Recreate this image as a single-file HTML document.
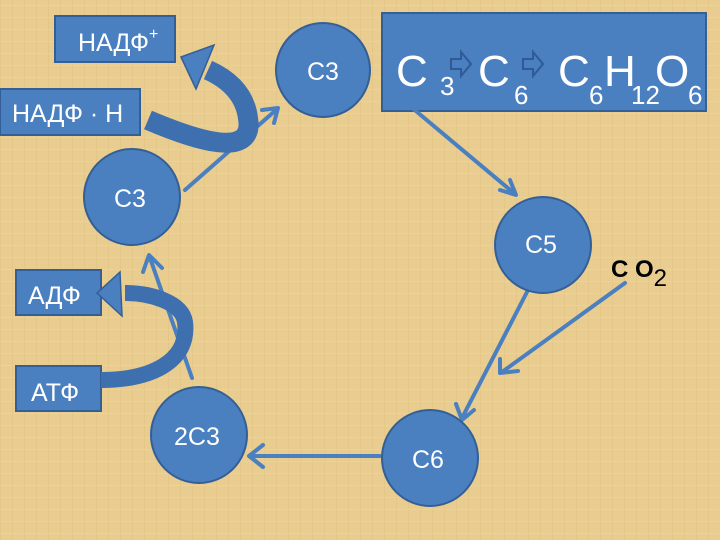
<!DOCTYPE html>
<html><head><meta charset="utf-8"><style>
body{margin:0;width:720px;height:540px;overflow:hidden;background:#e9cc8f;}
svg{display:block}
text{font-family:"Liberation Sans","DejaVu Sans",sans-serif;}
</style></head><body>
<svg width="720" height="540" viewBox="0 0 720 540">
<defs>
<pattern id="p" width="12" height="12" patternUnits="userSpaceOnUse">
<rect width="12" height="12" fill="#e9cc8f"/>
<rect x="0" y="0" width="1" height="12" fill="#e0bf7e" opacity=".5"/>
<rect x="0" y="5" width="12" height="1" fill="#f0d8a4" opacity=".5"/>
</pattern>
</defs>
<rect width="720" height="540" fill="url(#p)"/>
<g fill="#4a7fc0" stroke="#345f96" stroke-width="2">
<rect x="55" y="16" width="120" height="46"/>
<rect x="0" y="89" width="140" height="46"/>
<rect x="382" y="13" width="324" height="98"/>
<rect x="16" y="270" width="85" height="45"/>
<rect x="16" y="366" width="85" height="45"/>
</g>
<g stroke="#4a7fc0" stroke-width="4" fill="none" stroke-linecap="round">
<line x1="185" y1="190" x2="276" y2="110"/>
<line x1="398" y1="96" x2="515" y2="194"/>
<line x1="527" y1="292" x2="462" y2="418"/>
<line x1="625" y1="283" x2="502" y2="372"/>
<line x1="380" y1="456" x2="250" y2="456"/>
<line x1="192" y1="378" x2="150" y2="258"/>
</g>
<g stroke="#4a7fc0" stroke-width="4" fill="none" stroke-linecap="round" stroke-linejoin="round">
<polyline points="262,110 278,108 274,123"/>
<polyline points="500,190 516,195 510,180"/>
<polyline points="456,404 462,420 474,410"/>
<polyline points="500,359 500,373 518,371"/>
<polyline points="263,445 249,456 263,467"/>
<polyline points="143,272 149,255 162,268"/>
</g>
<path d="M148,120 C195,140 255,160 248,118 C245,95 230,80 208,70" stroke="#3e6fae" stroke-width="20" fill="none"/>
<polygon points="181,57 214,45 196,89" fill="#4a7fc0" stroke="#345f96" stroke-width="1.5"/>
<path d="M101,380 C150,380 190,362 185,322 C182,302 150,293 125,293" stroke="#3e6fae" stroke-width="16" fill="none"/>
<polygon points="97,293 120,272 122,316" fill="#4a7fc0" stroke="#345f96" stroke-width="1.5"/>
<g fill="#4a7fc0" stroke="#345f96" stroke-width="2">
<circle cx="323" cy="70" r="47"/>
<circle cx="132" cy="197" r="48"/>
<circle cx="543" cy="245" r="48"/>
<circle cx="199" cy="435" r="48"/>
<circle cx="430" cy="458" r="48"/>
</g>
<g fill="#fff" font-size="25">
<text x="78" y="51">НАДФ<tspan font-size="16" dy="-12">+</tspan></text>
<text x="12" y="122">НАДФ · Н</text>
<text x="307" y="80">С3</text>
<text x="114" y="207">С3</text>
<text x="525" y="253">С5</text>
<text x="174" y="445">2С3</text>
<text x="412" y="468">С6</text>
<text x="28" y="304">АДФ</text>
<text x="31" y="401">АТФ</text>
</g>
<g fill="#fff">
<text x="396" y="86" font-size="44">С</text>
<text x="440" y="95" font-size="26">3</text>
<text x="478" y="86" font-size="44">С</text>
<text x="514" y="104" font-size="26">6</text>
<text x="558" y="86" font-size="44">С</text>
<text x="589" y="104" font-size="26">6</text>
<text x="604" y="86" font-size="44">Н</text>
<text x="631" y="104" font-size="26">12</text>
<text x="655" y="86" font-size="44">О</text>
<text x="688" y="104" font-size="26">6</text>
</g>
<g fill="none" stroke="#2f5a94" stroke-width="2">
<polygon points="451,59 461,59 461,52 471,64 461,76 461,69 451,69"/>
<polygon points="523,59 533,59 533,52 543,64 533,76 533,69 523,69"/>
</g>
<text x="611" y="277" font-size="24" font-weight="bold" fill="#000">С О<tspan font-weight="normal" dy="9">2</tspan></text>
</svg>
</body></html>
